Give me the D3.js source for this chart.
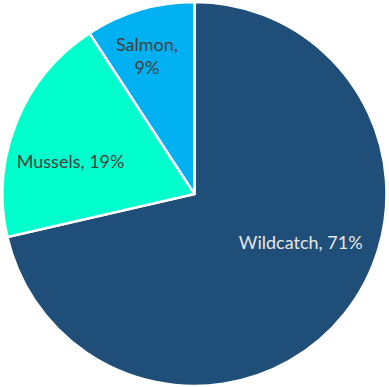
<!DOCTYPE html>
<html>
<head>
<meta charset="utf-8">
<script src="https://cdn.jsdelivr.net/npm/d3@7"></script>
<style>
  html, body { margin: 0; padding: 0; background: #fff; }
</style>
</head>
<body>
<div id="vis"></div>
<script>
let categories = ["Wildcatch", "Mussels", "Salmon"]
let values = [71.4, 19.4, 9.2]
let colors = ["#1F4E79", "#00FFCC", "#00B0F0"]
let textColors = ["#E6E6E6", "#404040", "#404040"]

// where Excel put each label: angle (deg, clockwise from top), distance from centre
let labelSpots = [[114.8, 117], [284.5, 128], [341, 146]]

let width = 389, height = 387
let cx = 194.5, cy = 194, radius = 192

let svg = d3.select("#vis").append("svg")
    .attr("width", width)
    .attr("height", height)

let g = svg.append("g")
    .attr("transform", `translate(${cx}, ${cy})`)

let pie = d3.pie().sort(null).value(d => d.value)
let arc = d3.arc().innerRadius(0).outerRadius(radius)

let data = categories.map((c, i) => ({ name: c, value: values[i], i: i }))
let arcs = pie(data)

g.selectAll("path")
 .data(arcs)
 .join("path")
 .attr("d", arc)
 .attr("fill", d => colors[d.data.i])
 .attr("stroke", "#fff")
 .attr("stroke-width", 2.5)
 .attr("stroke-linejoin", "round")

let labels = g.selectAll("text")
 .data(arcs)
 .join("text")
 .attr("font-family", "Lato, 'Open Sans', sans-serif")
 .attr("font-size", 18)
 .attr("fill", d => textColors[d.data.i])
 .attr("text-anchor", "middle")
 .attr("transform", d => {
    let [a, r] = labelSpots[d.data.i]
    let t = a * Math.PI / 180
    return `translate(${r * Math.sin(t)}, ${-r * Math.cos(t)})`
 })

labels.each(function(d) {
    let pct = Math.round(d.data.value) + "%"
    let el = d3.select(this)
    if (d.data.name === "Salmon") {
        el.append("tspan").attr("x", 0).attr("dy", "-0.25em").text(d.data.name + ",")
        el.append("tspan").attr("x", 0).attr("dy", "1.27em").text(pct)
    } else {
        el.append("tspan").attr("x", 0).attr("dy", "0.35em").text(d.data.name + ", " + pct)
    }
})
</script>
</body>
</html>
